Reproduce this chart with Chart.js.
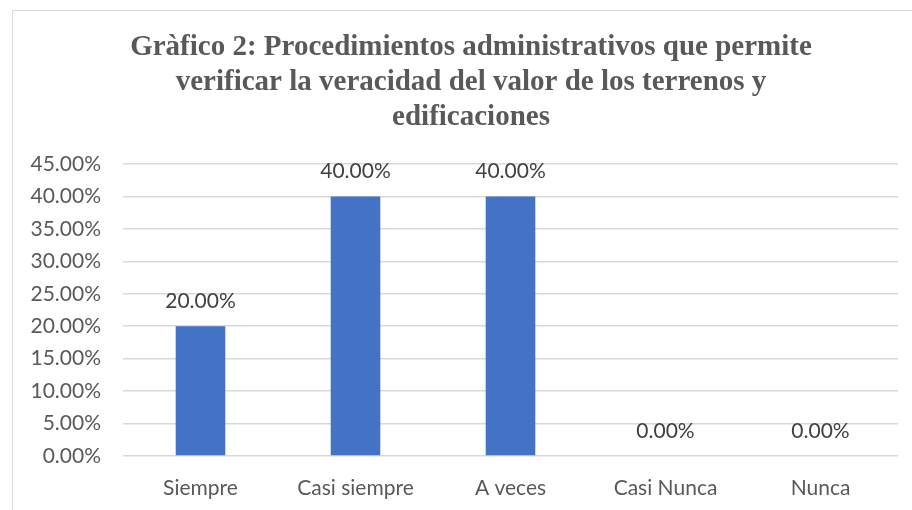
<!DOCTYPE html>
<html>
<head>
<meta charset="utf-8">
<script src="https://cdn.jsdelivr.net/npm/chart.js@4"></script>
<style>
    body { margin: 0; background: #fff; }
    #frame { position: absolute; left: 12px; top: 10px; width: 920px; height: 520px; border: 1px solid #d9d9d9; }
    #wrap { position: absolute; left: 0; top: 0; width: 912px; height: 510px; }
</style>
</head>
<body>
<div id="frame"></div>
<div id="wrap"><canvas id="barChart"></canvas></div>
<script>
const categories = ['Siempre', 'Casi siempre', 'A veces', 'Casi Nunca', 'Nunca']
const percentages = [20, 40, 40, 0, 0]
const titleLines = [
    'Gràfico 2: Procedimientos administrativos que permite',
    'verificar la veracidad del valor de los terrenos y',
    'edificaciones'
]

// title is centred on the whole frame, not on the plot, so it is drawn here
const chartTitle = {
    id: 'chartTitle',
    afterDraw(chart) {
        const ctx = chart.ctx
        ctx.save()
        ctx.font = 'bold 29px "Liberation Serif", serif'
        ctx.fillStyle = '#595959'
        ctx.textAlign = 'center'
        ctx.textBaseline = 'middle'
        titleLines.forEach(function (line, i) {
            ctx.fillText(line, 471, 48 + i * 35)
        })
        ctx.restore()
    }
}

const valueLabels = {
    id: 'valueLabels',
    afterDatasetsDraw(chart) {
        const ctx = chart.ctx
        const meta = chart.getDatasetMeta(0)
        ctx.save()
        ctx.font = '21px Lato, "Open Sans", sans-serif'
        ctx.fillStyle = '#404040'
        ctx.textAlign = 'center'
        ctx.textBaseline = 'middle'
        meta.data.forEach(function (bar, i) {
            ctx.fillText(percentages[i].toFixed(2) + '%', bar.x, bar.y - 25)
        })
        ctx.restore()
    }
}

document.addEventListener('DOMContentLoaded', function () {
    const barChartContext = document.getElementById('barChart').getContext('2d')

    new Chart(barChartContext, {
        type: 'bar',
        data: {
            labels: categories,
            datasets: [{
                data: percentages,
                backgroundColor: '#4472C4',
                barPercentage: 0.32,
                categoryPercentage: 1
            }]
        },
        options: {
            responsive: true,
            maintainAspectRatio: false,
            animation: false,
            layout: {padding: {top: 164, right: 14, bottom: 0, left: 18}},
            plugins: {
                legend: {display: false},
                tooltip: {enabled: false},
                title: {display: false}
            },
            scales: {
                x: {
                    afterFit: function (scale) { scale.height = 54 },
                    grid: {display: false},
                    border: {display: false},
                    ticks: {color: '#595959', font: {family: 'Lato, "Open Sans", sans-serif', size: 21, lineHeight: 1.2}, padding: 12}
                },
                y: {
                    min: 0,
                    max: 45,
                    afterFit: function (scale) { scale.width = 105 },
                    ticks: {
                        stepSize: 5,
                        color: '#595959',
                        padding: 22,
                        font: {family: 'Lato, "Open Sans", sans-serif', size: 21},
                        callback: function (value) { return value.toFixed(2) + '%' }
                    },
                    grid: {color: '#d9d9d9', lineWidth: 1.5, drawTicks: false},
                    border: {display: false}
                }
            }
        },
        plugins: [chartTitle, valueLabels]
    })
})
</script>
</body>
</html>
